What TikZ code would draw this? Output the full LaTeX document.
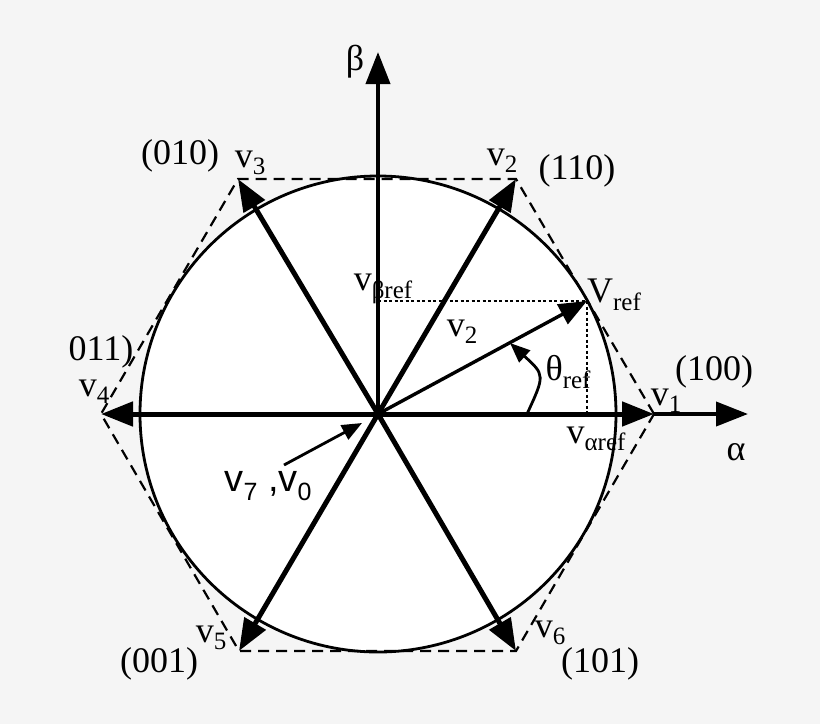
\documentclass[tikz,border=0pt]{standalone}
\usepackage{fontspec}
\setmainfont{Liberation Serif}
\newfontfamily\arialfont{Liberation Sans}
\usetikzlibrary{arrows.meta}
\usetikzlibrary{positioning}
\newcommand{\lowtxt}[1]{\raisebox{-0.45ex}{\fontsize{25}{25}\selectfont #1}}
\tikzset{
    vec/.style={line width=5pt, -{Triangle[length=32pt,width=24pt]}},
    axis/.style={line width=4pt, -{Triangle[length=32pt,width=24pt]}},
    lbl/.style={font=\fontsize{36}{40}\selectfont, inner sep=0pt},
    hexline/.style={line width=2.2pt, dash pattern=on 11pt off 7pt},
}
\begin{document}
\begin{tikzpicture}[x=1pt,y=-1pt]
        \fill[black!4] (0,0) rectangle (820,724);
        \useasboundingbox (0,0) rectangle (820,724);
        \coordinate (O) at (378,414);
        \coordinate (V1) at (654,414);
        \coordinate (V2) at (516,179);
        \coordinate (V3) at (238,179);
        \coordinate (V4) at (101,414);
        \coordinate (V5) at (239,651);
        \coordinate (V6) at (516,651);
        \coordinate (Vr) at (587,301);
        \coordinate (Ax) at (748,414);
        \coordinate (By) at (378,52);
        % circle and hexagon
        \filldraw[fill=white, line width=2.8pt] (O) circle[radius=238];
        \draw[hexline] (V1) -- (V2) -- (V3) -- (V4) -- (V5) -- (V6) -- cycle;
        % axes
        \draw[axis] (V1) -- (Ax);
        \draw[axis] (O) -- (By);
        % switching vectors
        \foreach \v in {V1,V2,V3,V4,V5,V6}
            \draw[vec] (O) -- (\v);
        \draw[line width=3.4pt, -{Triangle[length=28pt,width=22pt]}] (O) -- (Vr);
        \draw[line width=2.4pt, dash pattern=on 3pt off 2.5pt] (O |- Vr) -- (Vr) -- (Vr |- O);
        \draw[line width=2.8pt, -{Triangle[length=20pt,width=16pt]}] (527,414) .. controls (545,375) .. (510,343);
        \coordinate (Zs) at (284,465);
        \draw[line width=2.8pt, -{Triangle[length=20pt,width=16pt]}] (Zs) -- (362,423);
        % labels
        \node[lbl] (beta) at (355,62) {β};
        \node[lbl] (alpha) at (736,452) {α};
        \node[lbl] (s010) at (180,156) {(010)};
        \node[lbl] (l3) at (250,163) {v\lowtxt{3}};
        \node[lbl] (l2) at (502,161) {v\lowtxt{2}};
        \node[lbl] (s110) at (577,171) {(110)};
        \node[lbl] (s100) at (714,372) {(100)};
        \node[lbl] (l1) at (666,401) {v\lowtxt{1}};
        \node[lbl] (s011) at (101,352) {011)};
        \node[lbl] (l4) at (94,392) {v\lowtxt{4}};
        \node[lbl] (l5) at (211,638) {v\lowtxt{5}};
        \node[lbl] (s001) at (159,664) {(001)};
        \node[lbl] (l6) at (550,633) {v\lowtxt{6}};
        \node[lbl] (s101) at (600,664) {(101)};
        \node[lbl] (vbr) at (383,289) {v\lowtxt{βref}};
        \node[lbl] (vr) at (614,295) {V\lowtxt{ref}};
        \node[lbl] (lv2) at (462,332) {v\lowtxt{2}};
        \node[lbl] (th) at (568,372) {θ\lowtxt{ref}};
        \node[lbl] (var) at (596,439) {v\lowtxt{αref}};
        \node[lbl, font=\arialfont\fontsize{38}{40}\selectfont] (z) at (268,486) {v\lowtxt{\arialfont 7} ,v\lowtxt{\arialfont 0}};
    \end{tikzpicture}
\end{document}
